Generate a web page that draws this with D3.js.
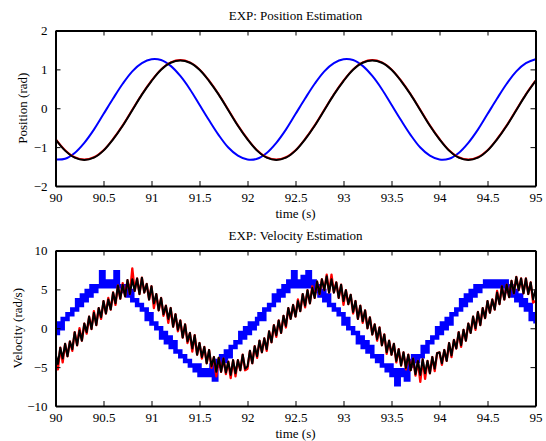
<!DOCTYPE html>
<html><head><meta charset="utf-8">
<script src="https://cdn.jsdelivr.net/npm/d3@7"></script>
<style>
body{margin:0;background:#fff;}
svg{display:block;}
</style>
</head><body>
<svg id="c" width="546" height="441"></svg>
<script>
// ---------- data ----------
const xTicks = [90, 90.5, 91, 91.5, 92, 92.5, 93, 93.5, 94, 94.5, 95];
const posTicks = [-2, -1, 0, 1, 2];
const velTicks = [-10, -5, 0, 5, 10];

// position samples: t = 90 + i*0.1
const posT0 = 90, posDt = 0.1;
const posBlue = [-1.32,-1.30,-1.15,-0.89,-0.55,-0.15,0.25,0.63,0.95,1.16,1.26,1.24,1.09,0.83,0.49,0.09,-0.31,-0.69,-1.01,-1.22,
  -1.32,-1.30,-1.15,-0.89,-0.55,-0.15,0.25,0.63,0.95,1.16,1.26,1.24,1.09,0.83,0.49,0.09,-0.31,-0.69,-1.01,-1.22,
  -1.32,-1.30,-1.15,-0.89,-0.55,-0.15,0.25,0.63,0.95,1.16,1.26];
const posRed = [-0.79,-1.08,-1.26,-1.32,-1.26,-1.08,-0.79,-0.44,-0.04,0.36,0.71,1.00,1.18,1.24,1.18,1.00,0.71,0.36,-0.04,-0.44,
  -0.79,-1.08,-1.26,-1.32,-1.26,-1.08,-0.79,-0.44,-0.04,0.36,0.71,1.00,1.18,1.24,1.18,1.00,0.71,0.36,-0.04,-0.44,
  -0.79,-1.08,-1.26,-1.32,-1.26,-1.08,-0.79,-0.44,-0.04,0.36,0.71];
const posBlack = [-0.80,-1.09,-1.27,-1.33,-1.27,-1.09,-0.80,-0.45,-0.05,0.35,0.70,0.99,1.17,1.23,1.17,0.99,0.70,0.35,-0.05,-0.45,
  -0.80,-1.09,-1.27,-1.33,-1.27,-1.09,-0.80,-0.45,-0.05,0.35,0.70,0.99,1.17,1.23,1.17,0.99,0.70,0.35,-0.05,-0.45,
  -0.80,-1.09,-1.27,-1.33,-1.27,-1.09,-0.80,-0.45,-0.05,0.35,0.70];

// velocity samples: t = 90 + i*0.025
const velT0 = 90, velDt = 0.025;
const velBlue = [
  -0.6,0.6,0,1.2,1.2,1.8,1.8,2.4,2.4,3.6, 3.0,4.2,3.6,4.8,4.2,5.4,4.8,5.4,5.4,7.2,
  5.4,6.0,5.4,6.0,5.4,7.2,5.4,5.4,4.8,5.4, 4.2,4.8,3.6,3.6,3.0,3.0,2.4,2.4,1.2,1.8,
  0.6,0.6,0,0,-1.2,-0.6,-1.8,-1.2,-2.4,-1.8, -3.0,-3.0,-3.6,-3.6,-4.2,-4.2,-4.8,-4.8,-5.4,-4.8,
  -6.0,-5.4,-6.0,-5.4,-6.0,-4.8,-6.6,-4.2,-4.8,-3.6, -4.2,-3.0,-3.6,-2.4,-2.4,-1.8,-1.8,-0.6,-1.2,0,
  -0.6,0.6,0,0.6,1.2,1.8,1.2,2.4,2.4,3.0, 3.0,4.2,3.6,4.8,4.2,5.4,4.8,6.0,5.4,7.2,
  5.4,6.0,5.4,6.6,5.4,7.2,5.4,6.0,4.8,5.4, 4.2,4.8,3.6,4.2,3.0,3.0,2.4,2.4,1.8,1.8,
  0.6,1.2,0,0,-0.6,-0.6,-1.8,-1.2,-2.4,-1.8, -3.0,-2.4,-3.6,-3.6,-4.2,-3.6,-4.8,-4.8,-5.4,-4.8,
  -6.0,-5.4,-7.2,-5.4,-6.0,-5.4,-6.6,-4.2,-4.8,-3.6, -4.2,-3.6,-3.6,-2.4,-3.0,-1.8,-1.8,-1.2,-1.2,0,
  -0.6,0.6,0,1.2,0.6,1.8,1.8,2.4,2.4,3.6, 3.0,4.2,3.6,4.8,4.2,5.4,4.8,5.4,5.4,6.0,
  5.4,6.0,5.4,6.0,5.4,6.0,5.4,6.0,4.8,5.4, 4.2,4.8,3.6,4.2,3.0,3.6,2.4,3.0,1.2,1.8,
  0.6];
const velRed = [
  -3.2,-5.3,-2.5,-4.4,-2.0,-3.6,-1.7,-2.9,-0.5,-2.2, 0.0,-1.6,0.6,-0.7,1.5,-0.1,2.2,0.4,2.6,1.2,
  3.5,1.9,3.9,2.4,4.6,3.0,5.5,3.8,5.8,4.1, 6.2,4.4,7.7,4.8,6.4,4.4,6.5,4.6,5.7,3.7,
  5.4,2.6,4.4,2.3,3.9,1.6,2.9,0.7,2.6,0.2, 1.8,-0.4,1.0,-1.2,0.5,-1.9,-0.6,-3.0,-0.9,-3.4,
  -1.9,-3.9,-2.4,-4.5,-2.8,-5.1,-3.7,-6.2,-3.8,-5.6, -3.9,-5.9,-4.3,-6.4,-4.1,-6.2,-4.1,-5.4,-3.4,-5.4,
  -5.2,-2.9,-4.5,-2.3,-3.8,-1.6,-3.1,-1.3,-2.9,-0.4, -1.8,0.4,-1.1,1.0,-0.6,1.6,0.1,2.6,1.2,3.0,
  1.5,3.7,2.2,4.4,2.7,4.9,3.2,5.4,3.9,6.0, 4.4,6.3,4.9,6.9,4.6,6.9,4.6,5.9,3.9,5.6,
  3.0,4.9,3.1,4.3,1.9,3.5,1.2,2.9,0.7,2.3, 0.0,1.4,-0.8,0.5,-1.6,0.1,-2.2,-0.8,-3.3,-1.6,
  -3.4,-2.0,-4.4,-2.7,-4.8,-3.1,-5.3,-3.4,-5.4,-3.9, -6.1,-4.2,-6.9,-4.0,-6.5,-4.2,-5.8,-3.7,-5.5,-3.2,
  -3.1,-4.7,-2.8,-4.2,-1.9,-3.7,-1.5,-2.6,-0.5,-2.4, -0.2,-1.6,0.6,-0.6,1.5,-0.2,2.1,0.4,2.6,1.3,
  3.5,2.0,3.7,2.4,4.8,3.1,5.4,3.7,5.6,4.0, 6.1,4.5,6.6,4.9,6.4,4.5,6.4,4.4,5.9,3.3,
  3.5];
const velBlack = [
  -3.2,-4.6,-2.5,-3.9,-2.0,-3.6,-1.7,-2.7,-0.5,-2.2, -0.3,-1.6,0.6,-0.5,1.5,-0.1,2.0,0.4,2.6,1.4,
  3.5,1.9,3.7,2.4,4.6,3.2,5.5,3.8,5.6,4.1, 6.2,4.4,6.3,4.8,6.4,4.4,6.5,4.6,5.7,3.7,
  5.4,3.2,4.4,2.3,3.9,1.8,2.9,1.2,2.6,0.2, 1.8,-0.2,1.0,-1.2,0.5,-1.7,-0.6,-2.6,-0.9,-3.4,
  -1.9,-3.7,-2.4,-4.5,-2.8,-4.9,-3.7,-5.6,-3.8,-5.6, -3.9,-5.7,-4.3,-6.0,-4.1,-5.8,-4.1,-5.4,-3.4,-5.2,
  -4.9,-2.9,-4.5,-2.3,-3.6,-1.6,-3.1,-1.3,-2.7,-0.4, -1.8,0.4,-0.9,1.0,-0.6,1.6,0.3,2.6,1.2,3.0,
  1.5,3.5,2.2,4.4,2.9,4.9,3.2,5.2,3.9,6.0, 4.4,6.3,4.9,6.7,4.6,6.3,4.6,5.9,3.9,5.6,
  3.5,4.9,3.1,4.3,2.1,3.5,1.2,2.9,0.9,2.3, 0.0,1.4,-0.8,0.5,-1.4,0.1,-2.2,-0.8,-3.1,-1.6,
  -3.4,-2.0,-4.2,-2.7,-4.8,-3.1,-5.1,-3.4,-5.4,-3.9, -5.9,-4.2,-6.0,-4.0,-5.8,-4.2,-5.8,-3.7,-5.2,-3.2,
  -3.1,-4.5,-2.8,-4.2,-1.9,-3.5,-1.5,-2.6,-0.5,-2.2, -0.2,-1.6,0.6,-0.6,1.5,0.0,2.1,0.4,2.6,1.3,
  3.5,2.0,3.7,2.4,4.6,3.1,5.4,3.7,5.6,4.0, 6.1,4.5,6.6,4.9,6.4,4.5,6.4,4.4,5.9,3.7,
  5.0];

// ---------- drawing ----------
const FONT = '"Liberation Serif","Times New Roman",Times,serif';
const svg = d3.select("#c");
const xL = 55.5, xR = 535.5;
const x = d3.scaleLinear().domain([90, 95]).range([xL, xR]);

function panel(opt) {
  const y = d3.scaleLinear().domain(opt.domain).range([opt.bottom, opt.top]);
  const g = svg.append("g");
  const clipId = "clip" + opt.id;
  svg.append("clipPath").attr("id", clipId).append("rect")
    .attr("x", xL).attr("y", opt.top).attr("width", xR - xL).attr("height", opt.bottom - opt.top);
  const plot = g.append("g").attr("clip-path", `url(#${clipId})`);
  opt.series.forEach(s => {
    const line = d3.line()
      .x((d, i) => x(s.t0 + i * s.dt))
      .y(d => y(d))
      .curve(s.curve || d3.curveLinear);
    plot.append("path").datum(s.values)
      .attr("fill", "none").attr("stroke", s.color)
      .attr("stroke-width", s.width).attr("stroke-linejoin", s.join || "round")
      .attr("d", line);
  });
  const style = sel => {
    sel.attr("font-family", FONT).attr("font-size", 13);
    sel.selectAll("text").attr("fill", "#000");
    sel.selectAll(".tick line").attr("stroke", "#000").attr("stroke-width", 1);
    sel.select(".domain").attr("stroke", "#000").attr("stroke-width", 2);
  };
  g.append("g").attr("transform", `translate(0,${opt.bottom})`)
    .call(d3.axisBottom(x).tickValues(xTicks).tickSizeInner(-5).tickSizeOuter(0).tickPadding(7).tickFormat(d3.format("")))
    .call(style);
  g.append("g").attr("transform", `translate(0,${opt.top})`)
    .call(d3.axisTop(x).tickValues(xTicks).tickSizeInner(-5).tickSizeOuter(0).tickFormat(""))
    .call(style);
  g.append("g").attr("transform", `translate(${xL},0)`)
    .call(d3.axisLeft(y).tickValues(opt.ticks).tickSizeInner(-5).tickSizeOuter(0).tickPadding(8).tickFormat(d3.format("")))
    .call(style);
  g.append("g").attr("transform", `translate(${xR},0)`)
    .call(d3.axisRight(y).tickValues(opt.ticks).tickSizeInner(-5).tickSizeOuter(0).tickFormat(""))
    .call(style);
  // title
  g.append("text").attr("x", (xL + xR) / 2).attr("y", opt.top - 10.5)
    .attr("text-anchor", "middle").attr("font-family", FONT).attr("font-size", 13)
    .text(opt.title);
  // x label
  g.append("text").attr("x", (xL + xR) / 2).attr("y", opt.bottom + 31.5)
    .attr("text-anchor", "middle").attr("font-family", FONT).attr("font-size", 13)
    .text("time (s)");
  // y label
  const cy = (opt.top + opt.bottom) / 2;
  g.append("text").attr("transform", `translate(${opt.ylabX},${cy}) rotate(-90)`)
    .attr("text-anchor", "middle").attr("font-family", FONT).attr("font-size", 13)
    .text(opt.ylabel);
}

panel({
  id: 1, top: 30.5, bottom: 186, domain: [-2, 2], ticks: posTicks,
  title: "EXP: Position Estimation", ylabel: "Position (rad)", ylabX: 27,
  series: [
    {values: posBlue, t0: posT0, dt: posDt, color: "#0000ff", width: 2, curve: d3.curveCatmullRom},
    {values: posRed, t0: posT0, dt: posDt, color: "#ff0000", width: 2, curve: d3.curveCatmullRom},
    {values: posBlack, t0: posT0, dt: posDt, color: "#000000", width: 2, curve: d3.curveCatmullRom}
  ]
});

panel({
  id: 2, top: 250.5, bottom: 406, domain: [-10, 10], ticks: velTicks,
  title: "EXP: Velocity Estimation", ylabel: "Velocity (rad/s)", ylabX: 22,
  series: [
    {values: velBlue, t0: velT0, dt: velDt, color: "#0000ff", width: 4.5, curve: d3.curveStepAfter, join: "miter"},
    {values: velRed, t0: velT0, dt: velDt, color: "#ff0000", width: 2.3},
    {values: velBlack, t0: velT0, dt: velDt, color: "#000000", width: 2}
  ]
});
</script>
</body></html>
